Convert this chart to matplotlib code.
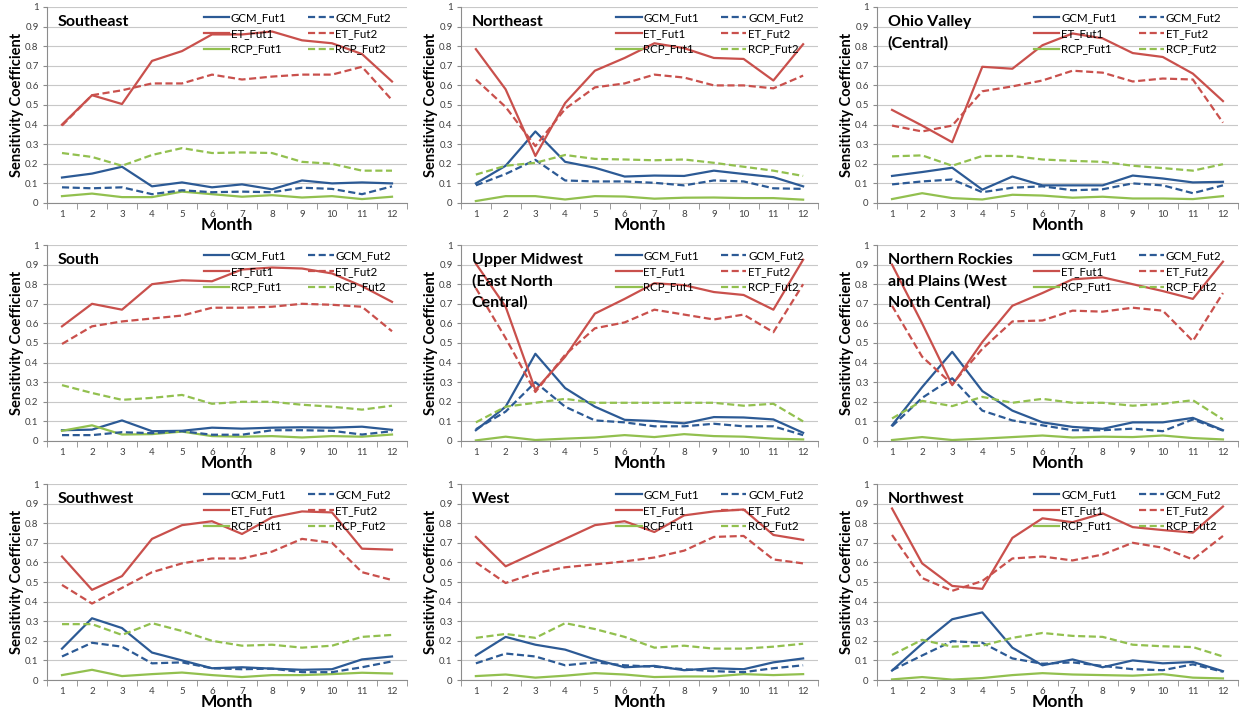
import matplotlib
matplotlib.use("Agg")
import matplotlib.pyplot as plt
from matplotlib.ticker import FixedLocator, FuncFormatter

plt.rcParams["font.family"] = ["Lato", "DejaVu Sans"]

MONTHS = list(range(1, 13))
REGIONS = [
    "Southeast", "Northeast", "Ohio Valley\n(Central)",
    "South", "Upper Midwest\n(East North\nCentral)",
    "Northern Rockies\nand Plains (West\nNorth Central)",
    "Southwest", "West", "Northwest",
]

# one row per region, same order as REGIONS
GCM_FUT1 = [
    [0.13, 0.15, 0.185, 0.085, 0.105, 0.08, 0.095, 0.07, 0.115, 0.10, 0.105, 0.10],
    [0.10, 0.19, 0.365, 0.21, 0.18, 0.135, 0.14, 0.138, 0.165, 0.148, 0.132, 0.085],
    [0.138, 0.158, 0.18, 0.068, 0.135, 0.09, 0.09, 0.09, 0.14, 0.125, 0.105, 0.108],
    [0.055, 0.058, 0.105, 0.05, 0.052, 0.068, 0.063, 0.068, 0.07, 0.068, 0.073, 0.057],
    [0.055, 0.175, 0.445, 0.27, 0.175, 0.108, 0.102, 0.09, 0.122, 0.12, 0.11, 0.042],
    [0.08, 0.275, 0.455, 0.255, 0.155, 0.095, 0.072, 0.062, 0.095, 0.095, 0.118, 0.055],
    [0.16, 0.315, 0.265, 0.14, 0.10, 0.06, 0.065, 0.058, 0.052, 0.055, 0.105, 0.12],
    [0.125, 0.22, 0.18, 0.155, 0.105, 0.065, 0.072, 0.05, 0.06, 0.055, 0.09, 0.11],
    [0.048, 0.185, 0.31, 0.345, 0.165, 0.075, 0.105, 0.065, 0.10, 0.085, 0.092, 0.045],
]
GCM_FUT2 = [
    [0.08, 0.075, 0.08, 0.045, 0.065, 0.055, 0.058, 0.055, 0.078, 0.072, 0.045, 0.085],
    [0.09, 0.148, 0.22, 0.115, 0.11, 0.11, 0.103, 0.09, 0.115, 0.11, 0.075, 0.072],
    [0.095, 0.11, 0.12, 0.055, 0.078, 0.085, 0.065, 0.07, 0.10, 0.09, 0.05, 0.09],
    [0.03, 0.03, 0.045, 0.04, 0.05, 0.032, 0.032, 0.055, 0.055, 0.052, 0.033, 0.05],
    [0.06, 0.15, 0.30, 0.175, 0.105, 0.095, 0.075, 0.075, 0.088, 0.075, 0.075, 0.03],
    [0.075, 0.22, 0.32, 0.155, 0.105, 0.08, 0.055, 0.055, 0.063, 0.05, 0.11, 0.053],
    [0.12, 0.19, 0.17, 0.085, 0.09, 0.06, 0.055, 0.058, 0.04, 0.04, 0.065, 0.095],
    [0.085, 0.135, 0.12, 0.075, 0.09, 0.075, 0.068, 0.055, 0.045, 0.04, 0.06, 0.075],
    [0.05, 0.125, 0.198, 0.19, 0.11, 0.083, 0.09, 0.072, 0.055, 0.05, 0.08, 0.042],
]
ET_FUT1 = [
    [0.40, 0.55, 0.505, 0.725, 0.775, 0.86, 0.86, 0.875, 0.83, 0.815, 0.76, 0.62],
    [0.785, 0.58, 0.24, 0.51, 0.675, 0.74, 0.815, 0.79, 0.74, 0.735, 0.625, 0.81],
    [0.475, 0.395, 0.31, 0.695, 0.685, 0.805, 0.865, 0.84, 0.765, 0.745, 0.66, 0.52],
    [0.585, 0.70, 0.67, 0.80, 0.82, 0.815, 0.875, 0.885, 0.88, 0.855, 0.79, 0.71],
    [0.905, 0.685, 0.26, 0.43, 0.65, 0.725, 0.805, 0.795, 0.76, 0.745, 0.67, 0.925],
    [0.90, 0.60, 0.285, 0.505, 0.69, 0.755, 0.825, 0.835, 0.80, 0.765, 0.725, 0.915],
    [0.63, 0.46, 0.53, 0.72, 0.79, 0.81, 0.745, 0.83, 0.86, 0.855, 0.67, 0.665],
    [0.73, 0.58, 0.65, 0.72, 0.79, 0.81, 0.755, 0.84, 0.86, 0.87, 0.74, 0.715],
    [0.875, 0.595, 0.48, 0.465, 0.725, 0.825, 0.805, 0.85, 0.78, 0.765, 0.752, 0.885],
]
ET_FUT2 = [
    [0.395, 0.55, 0.575, 0.61, 0.61, 0.655, 0.63, 0.645, 0.655, 0.655, 0.695, 0.525],
    [0.63, 0.49, 0.29, 0.48, 0.59, 0.61, 0.655, 0.64, 0.60, 0.60, 0.585, 0.65],
    [0.395, 0.365, 0.395, 0.57, 0.595, 0.625, 0.675, 0.665, 0.62, 0.635, 0.63, 0.41],
    [0.495, 0.585, 0.61, 0.625, 0.64, 0.68, 0.68, 0.685, 0.70, 0.695, 0.685, 0.56],
    [0.78, 0.525, 0.25, 0.44, 0.575, 0.605, 0.67, 0.645, 0.62, 0.645, 0.555, 0.80],
    [0.69, 0.43, 0.29, 0.47, 0.61, 0.615, 0.665, 0.66, 0.68, 0.665, 0.51, 0.755],
    [0.485, 0.39, 0.47, 0.55, 0.595, 0.62, 0.62, 0.655, 0.72, 0.70, 0.55, 0.51],
    [0.60, 0.495, 0.545, 0.575, 0.59, 0.605, 0.625, 0.66, 0.73, 0.735, 0.615, 0.595],
    [0.74, 0.52, 0.455, 0.505, 0.62, 0.63, 0.61, 0.64, 0.70, 0.675, 0.615, 0.735],
]
RCP_FUT1 = [
    [0.035, 0.048, 0.03, 0.03, 0.058, 0.045, 0.032, 0.04, 0.028, 0.035, 0.02, 0.032],
    [0.01, 0.035, 0.035, 0.018, 0.035, 0.033, 0.022, 0.027, 0.028, 0.025, 0.025, 0.017],
    [0.02, 0.05, 0.025, 0.018, 0.042, 0.038, 0.027, 0.032, 0.023, 0.023, 0.02, 0.035],
    [0.052, 0.08, 0.033, 0.035, 0.048, 0.025, 0.022, 0.025, 0.018, 0.025, 0.022, 0.033],
    [0.003, 0.022, 0.005, 0.012, 0.018, 0.03, 0.02, 0.035, 0.025, 0.022, 0.012, 0.008],
    [0.005, 0.02, 0.005, 0.012, 0.02, 0.028, 0.018, 0.022, 0.02, 0.028, 0.015, 0.008],
    [0.025, 0.052, 0.02, 0.03, 0.038, 0.025, 0.015, 0.025, 0.025, 0.03, 0.037, 0.033],
    [0.02, 0.028, 0.012, 0.022, 0.035, 0.028, 0.015, 0.018, 0.018, 0.03, 0.025, 0.03],
    [0.003, 0.015, 0.002, 0.01, 0.025, 0.035, 0.028, 0.025, 0.022, 0.03, 0.012, 0.008],
]
RCP_FUT2 = [
    [0.255, 0.235, 0.19, 0.245, 0.28, 0.255, 0.258, 0.255, 0.21, 0.20, 0.165, 0.165],
    [0.145, 0.19, 0.205, 0.245, 0.225, 0.222, 0.218, 0.222, 0.205, 0.185, 0.165, 0.138],
    [0.238, 0.243, 0.19, 0.24, 0.24, 0.222, 0.215, 0.21, 0.19, 0.178, 0.165, 0.198],
    [0.285, 0.245, 0.21, 0.22, 0.235, 0.19, 0.20, 0.20, 0.185, 0.175, 0.16, 0.18],
    [0.095, 0.175, 0.195, 0.215, 0.195, 0.195, 0.195, 0.195, 0.195, 0.18, 0.19, 0.10],
    [0.115, 0.205, 0.178, 0.225, 0.195, 0.215, 0.195, 0.195, 0.18, 0.19, 0.208, 0.11],
    [0.285, 0.285, 0.23, 0.29, 0.25, 0.20, 0.175, 0.18, 0.165, 0.175, 0.22, 0.23],
    [0.215, 0.235, 0.215, 0.29, 0.26, 0.22, 0.165, 0.175, 0.16, 0.16, 0.17, 0.185],
    [0.128, 0.205, 0.17, 0.175, 0.215, 0.24, 0.225, 0.22, 0.18, 0.172, 0.168, 0.12],
]

BLUE = "#2c5a95"
RED = "#c9504c"
GREEN = "#92c04f"
GREY = "#8c8c8c"
DASH = (0, (3.2, 1.6))

W, H = 1241, 715
COL_LEFT = [47, 461, 877]
COL_WIDTH = [360, 357, 361]
ROW_TOP = [7, 245, 484]
PANEL_H = 196

fig = plt.figure(figsize=(W / 100, H / 100), dpi=100)


def fmt_y(v, _):
    return "0" if v == 0 else ("1" if v == 1 else f"{v:.1f}")


for i, region in enumerate(REGIONS):
    r, c = divmod(i, 3)
    ax = fig.add_axes([COL_LEFT[c] / W, 1 - (ROW_TOP[r] + PANEL_H) / H,
                       COL_WIDTH[c] / W, PANEL_H / H])

    series = [
        (GCM_FUT1[i], BLUE, "-", "GCM_Fut1"),
        (ET_FUT1[i], RED, "-", "ET_Fut1"),
        (RCP_FUT1[i], GREEN, "-", "RCP_Fut1"),
        (GCM_FUT2[i], BLUE, DASH, "GCM_Fut2"),
        (ET_FUT2[i], RED, DASH, "ET_Fut2"),
        (RCP_FUT2[i], GREEN, DASH, "RCP_Fut2"),
    ]
    for vals, col, ls, lab in series:
        ax.plot(MONTHS, vals, color=col, ls=ls, lw=1.6, label=lab)

    ax.set_xlim(0.5, 12.5)
    ax.set_ylim(0, 1)
    ax.yaxis.set_major_locator(FixedLocator([k / 10 for k in range(11)]))
    ax.yaxis.set_major_formatter(FuncFormatter(fmt_y))
    ax.set_xticks(MONTHS)
    ax.set_xticks([m + 0.5 for m in range(0, 13)], minor=True)
    ax.tick_params(axis="x", which="major", length=0, labelsize=7,
                   labelcolor="#404040", pad=5)
    ax.tick_params(axis="x", which="minor", length=4, color=GREY, direction="out")
    ax.tick_params(axis="y", length=3, color=GREY, labelsize=7,
                   labelcolor="#404040", pad=3)
    ax.grid(axis="y", color="#c8c8c8", lw=0.8)
    ax.set_axisbelow(True)
    for side in ("top", "right"):
        ax.spines[side].set_visible(False)
    for side in ("left", "bottom"):
        ax.spines[side].set_color(GREY)
        ax.spines[side].set_linewidth(0.8)

    ax.text(0.03, 0.96, region, transform=ax.transAxes, ha="left", va="top",
            fontsize=11.5, fontweight="bold", linespacing=1.6)
    ax.set_ylabel("Sensitivity Coefficient", fontsize=10.5, fontweight="bold")
    ax.yaxis.set_label_coords(-0.065, 0.5)
    ax.set_xlabel("Month", fontsize=12.5, fontweight="bold")
    ax.xaxis.set_label_coords(0.5, -0.07)

    ax.legend(ncol=2, loc="upper left", bbox_to_anchor=(0.435, 0.975),
              frameon=False, fontsize=8.3, handlelength=2.2, handletextpad=0.15,
              columnspacing=1.9, labelspacing=0.42, borderpad=0, borderaxespad=0)

fig.savefig("out.png", dpi=100)
